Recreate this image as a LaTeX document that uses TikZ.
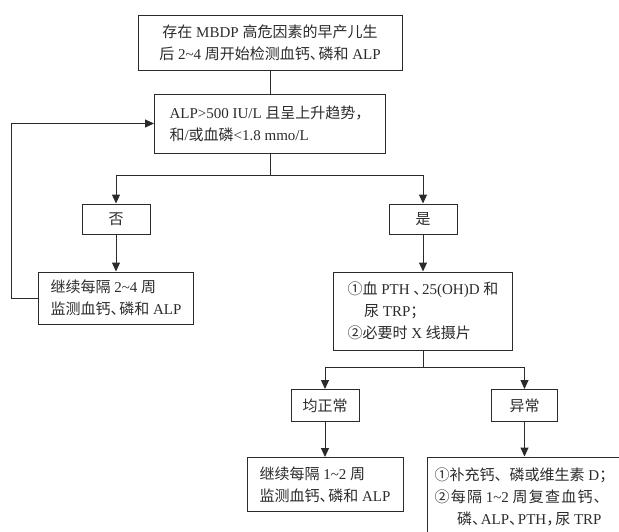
\documentclass[tikz,border=0pt]{standalone}
\usepackage{fontspec}
\setmainfont{Liberation Serif}
\newfontfamily\zhfont{Noto Sans CJK SC}
\newfontfamily\zhwide[LetterSpace=8]{Noto Sans CJK SC}
\usepackage{tikz}
\usetikzlibrary{arrows.meta}
\definecolor{ink}{HTML}{2B2B2B}
\newcommand\zh[1]{{\zhfont #1}}
\newcommand\zhw[1]{{\zhwide #1}}
\newcommand\dun{\zh{、}\kern-0.42em}

\begin{document}
\begin{tikzpicture}[
  x=1pt, y=-1pt,
  box/.style={draw=ink, line width=1pt, text=ink, align=left,
              inner sep=0pt, font=\fontsize{15}{22}\selectfont},
  arrow/.style={-{Triangle[width=8pt,length=9pt]}, draw=ink, line width=1pt},
  link/.style={draw=ink, line width=1pt}
]
  \clip (0,0) rectangle (619,531);

  \node[box, align=center, minimum width=264, minimum height=55] (start) at (270,42.5)
    {\zh{存在} MBDP \zh{高危因素的早产儿生}\\\zh{后} 2\textasciitilde4 \zh{周开始检测血钙}\dun\zh{磷和} ALP};
  \node[box, minimum width=231, minimum height=59] (cond) at (270,123.5)
    {ALP>500 IU/L \zh{且呈上升趋势，}\\\zh{和}/\zh{或血磷}<1.8 mmo/L};
  \node[box, align=center, minimum width=68, minimum height=30] (no)  at (116,219) {\zh{否}};
  \node[box, align=center, minimum width=68, minimum height=30] (yes) at (423,219) {\zh{是}};
  \node[box, minimum width=155, minimum height=52] (wait) at (116,298)
    {\zh{继续每隔} 2\textasciitilde4 \zh{周}\\\zh{监测血钙}\dun\zh{磷和} ALP};
  \node[box, minimum width=179, minimum height=78] (exam) at (423,311)
    {\zh{①血} PTH \dun 25(OH)D \zh{和}\\\hspace*{1.1em}\zh{尿} TRP\zh{；}\\\zh{②必要时} X \zh{线摄片}};
  \node[box, align=center, minimum width=68, minimum height=32] (normal)   at (325,405.5) {\zh{均正常}};
  \node[box, align=center, minimum width=66, minimum height=32] (abnormal) at (524.5,405.5) {\zh{异常}};
  \node[box, minimum width=156, minimum height=54] (wait2) at (325,484.5)
    {\zh{继续每隔} 1\textasciitilde2 \zh{周}\\\zh{监测血钙}\dun\zh{磷和} ALP};
  \node[box, minimum width=195, minimum height=79] (treat) at (524.5,496.5)
    {\zh{①补充钙、磷或维生素} D\zh{；}\\\zhw{②每隔} 1\textasciitilde2 \zhw{周复查血钙、}\\\hspace*{1.5em}\zh{磷}\dun ALP\dun PTH\zh{，}\kern-0.4em\zh{尿} TRP};

  \coordinate (split1) at (270,175);
  \coordinate (split2) at (423,367);
  \coordinate (loop)   at (11,298);

  \draw[link]  (start) -- (cond);
  \draw[link]  (cond) -- (split1);
  \draw[arrow] (split1) -| (no);
  \draw[arrow] (split1) -| (yes);
  \draw[arrow] (no) -- (wait);
  \draw[arrow] (yes) -- (exam);
  \draw[arrow] (wait.west) -- (loop) |- (cond.west);
  \draw[link]  (exam) -- (split2);
  \draw[arrow] (split2) -| (normal);
  \draw[arrow] (split2) -| (abnormal);
  \draw[arrow] (normal) -- (wait2);
  \draw[arrow] (abnormal) -- (treat);
\end{tikzpicture}
\end{document}
